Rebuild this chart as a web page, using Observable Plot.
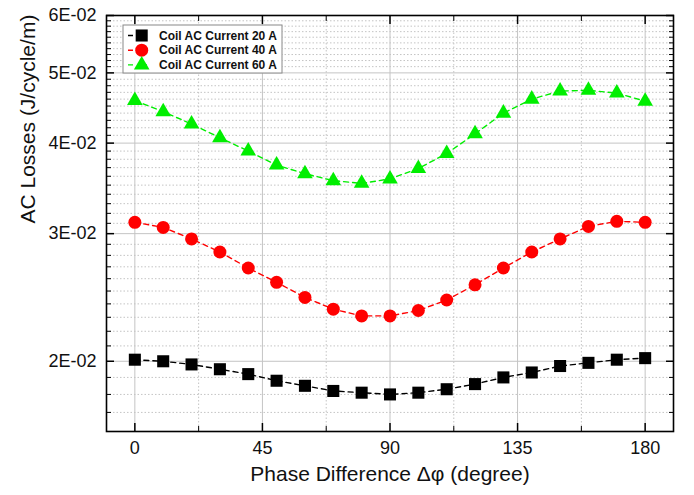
<!DOCTYPE html>
<html><head><meta charset="utf-8">
<script src="https://cdn.jsdelivr.net/npm/d3@7"></script>
<script src="https://cdn.jsdelivr.net/npm/@observablehq/plot@0.6"></script>
<style>
body{margin:0;background:#fff}
svg{font-family:"Liberation Sans",Arial,sans-serif}
</style>
</head><body><div id="chart"></div>
<script>
const phase = [0,10,20,30,40,50,60,70,80,90,100,110,120,130,140,150,160,170,180];
const loss20 = [0.0201,0.0200,0.0198,0.0195,0.0192,0.0188,0.0185,0.0182,0.0181,0.0180,0.0181,0.0183,0.0186,0.0190,0.0193,0.0197,0.0199,0.0201,0.0202];
const loss40 = [0.0311,0.0306,0.0295,0.0283,0.0269,0.0257,0.0245,0.0236,0.0231,0.0231,0.0235,0.0243,0.0255,0.0269,0.0283,0.0295,0.0307,0.0312,0.0311];
const loss60 = [0.0458,0.0442,0.0425,0.0407,0.0390,0.0373,0.0363,0.0355,0.0352,0.0357,0.0369,0.0387,0.0412,0.0440,0.0460,0.0472,0.0473,0.0469,0.0457];
const seriesNames = ["Coil AC Current 20 A","Coil AC Current 40 A","Coil AC Current 60 A"];
const seriesColors = ["#000000","#ff0000","#00ee00"];
const seriesSymbols = ["square","circle","triangle"];
const xMajor = [0,45,90,135,180];
const xMinor = [22.5,67.5,112.5,157.5];
const yMajor = [0.02,0.03,0.04,0.05,0.06];
const yMinorK = [16,17,18,19,21,22,23,24,25,26,27,28,29,31,32,33,34,35,36,37,38,39,41,42,43,44,45,46,47,48,49,51,52,53,54,55,56,57,58,59];
const yMinor = yMinorK.map(k => k/1000);
const xTitle = "Phase Difference \u0394\u03c6 (degree)";
const yTitle = "AC Losses (J/cycle/m)";

const allSeries = [loss20, loss40, loss60];
const rows = allSeries.flatMap((vals, s) => vals.map((v, i) => ({x: phase[i], y: v, s})));
const symR = [6.8, 6.5, 5.8];

const fmt = d => Math.round(d*100) + "E-02";
const gridC = "#c4c4c4";

const marks = [
  Plot.ruleY(yMinor, {stroke: gridC, strokeDasharray: "1.5,2", strokeWidth: 1}),
  Plot.ruleX(xMinor, {stroke: gridC, strokeDasharray: "1.5,2", strokeWidth: 1}),
  Plot.ruleY(yMajor.slice(0,4), {stroke: gridC, strokeWidth: 1}),
  Plot.ruleX(xMajor, {stroke: gridC, strokeWidth: 1}),
];
allSeries.forEach((vals, s) => {
  const d = rows.filter(r => r.s === s);
  marks.push(Plot.line(d, {x: "x", y: "y", stroke: seriesColors[s], strokeWidth: 1.4, strokeDasharray: "5,4"}));
});
allSeries.forEach((vals, s) => {
  const d = rows.filter(r => r.s === s);
  marks.push(Plot.dot(d, {x: "x", y: "y", symbol: seriesSymbols[s], r: symR[s], fill: seriesColors[s], stroke: "none"}));
});
marks.push(
  Plot.frame({stroke: "#000", strokeWidth: 1.6}),
  Plot.axisX({anchor: "bottom", ticks: xMajor, tickSize: -8, label: null, text: null, strokeWidth: 1.5}),
  Plot.axisX({anchor: "bottom", ticks: xMinor, tickSize: -5, label: null, text: null}),
  Plot.axisX({anchor: "top", ticks: xMajor, tickSize: -8, label: null, text: null, strokeWidth: 1.5}),
  Plot.axisX({anchor: "top", ticks: xMinor, tickSize: -5, label: null, text: null}),
  Plot.axisY({anchor: "left", ticks: yMajor, tickSize: -8, label: null, text: null, strokeWidth: 1.5}),
  Plot.axisY({anchor: "left", ticks: yMinor, tickSize: -5, label: null, text: null}),
  Plot.axisY({anchor: "right", ticks: yMajor, tickSize: -8, label: null, text: null, strokeWidth: 1.5}),
  Plot.axisY({anchor: "right", ticks: yMinor, tickSize: -5, label: null, text: null}),
  Plot.axisX({anchor: "bottom", ticks: xMajor, tickSize: 0, tickPadding: 10, label: null, fontSize: 18, fill: "#111"}),
  Plot.axisY({anchor: "left", ticks: yMajor, tickSize: 0, tickPadding: 10, tickFormat: fmt, label: null, fontSize: 18, fill: "#111"}),
  Plot.text([xTitle], {frameAnchor: "bottom", dy: 49, fontSize: 21, fill: "#111"}),
  Plot.text([yTitle], {frameAnchor: "left", dx: -78, rotate: -90, fontSize: 21, fill: "#111"})
);

const plot = Plot.plot({
  width: 694, height: 495,
  marginLeft: 106, marginRight: 21, marginTop: 15, marginBottom: 64,
  x: {domain: [-10, 190]},
  y: {type: "log", domain: [0.016, 0.06]},
  marks
});
document.getElementById("chart").appendChild(plot);

// legend
const svg = d3.select(plot);
const lg = svg.append("g").attr("text-anchor", "start");
lg.append("rect").attr("x", 123).attr("y", 25).attr("width", 159).attr("height", 48)
  .attr("fill", "#fff").attr("stroke", "#888").attr("stroke-width", 1);
seriesNames.forEach((name, i) => {
  const cy = 35.5 + i * 14.7;
  const g = lg.append("g");
  g.append("line").attr("x1", 128).attr("x2", 156).attr("y1", cy).attr("y2", cy)
    .attr("stroke", seriesColors[i]).attr("stroke-width", 1.4).attr("stroke-dasharray", "5,9");
  const sym = {square: d3.symbolSquare, circle: d3.symbolCircle, triangle: d3.symbolTriangle}[seriesSymbols[i]];
  const r = symR[i];
  g.append("path").attr("d", d3.symbol(sym, Math.PI * r * r)())
    .attr("transform", `translate(141.7,${cy})`).attr("fill", seriesColors[i]);
  g.append("text").attr("x", 159).attr("y", cy).attr("dy", "0.35em").attr("text-anchor", "start")
    .attr("font-size", 12).attr("font-weight", "bold").attr("fill", "#111").text(name);
});
</script>
</body></html>
